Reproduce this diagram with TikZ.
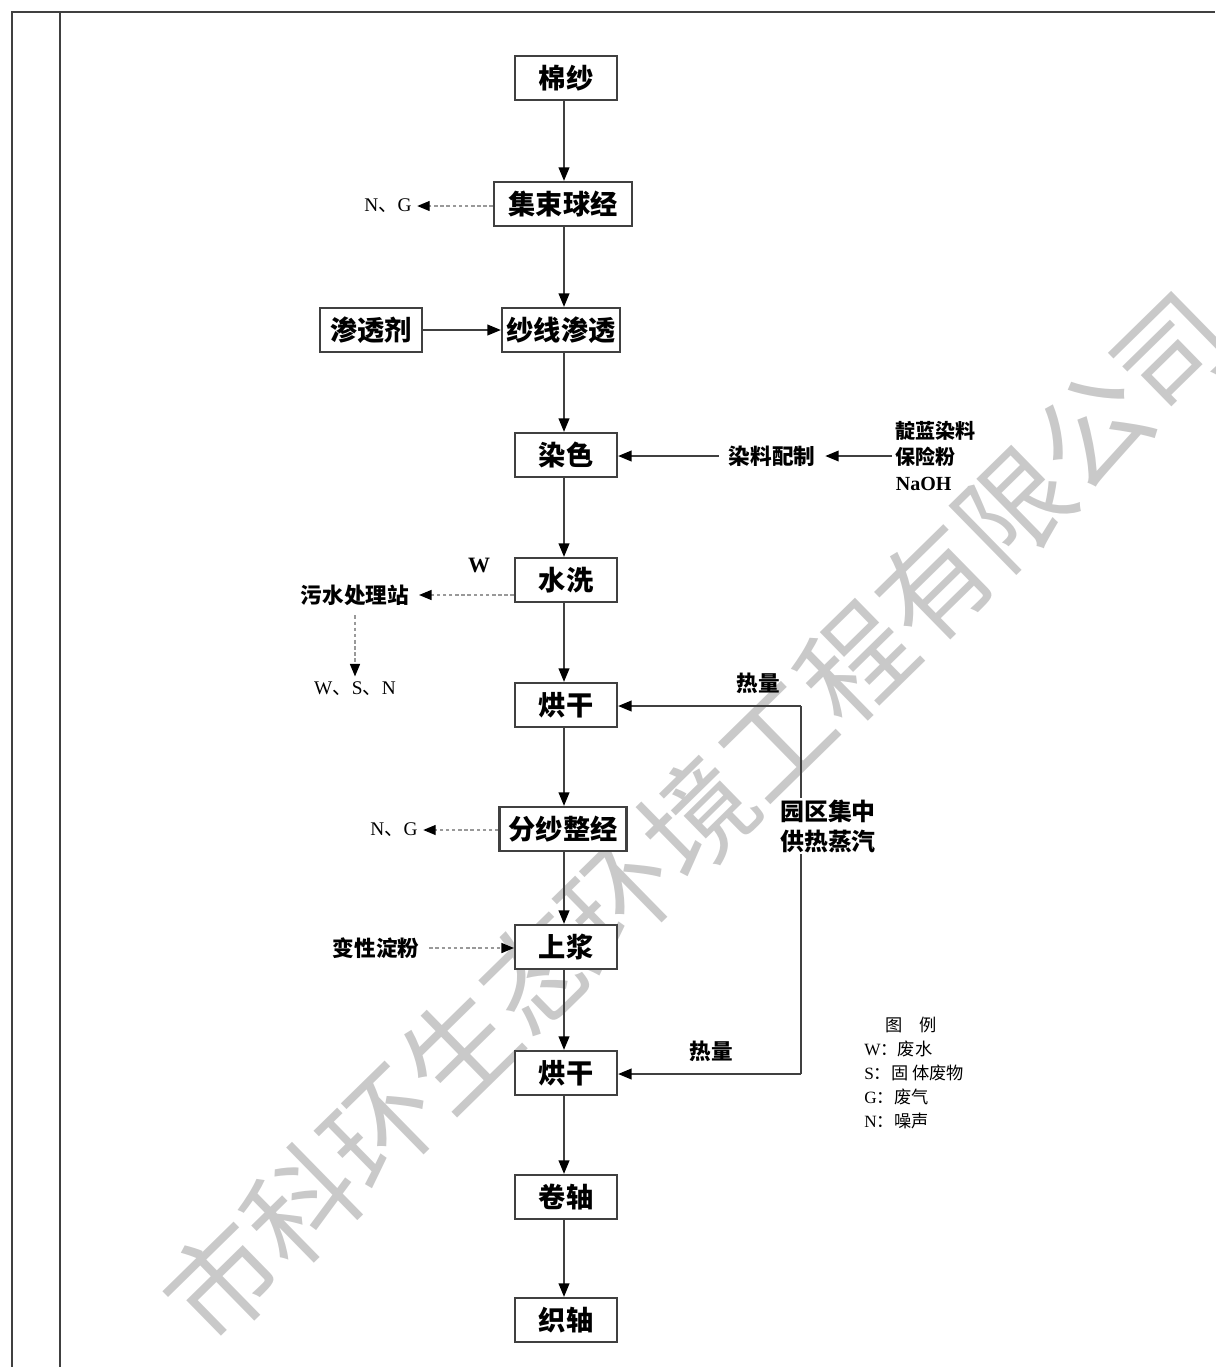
\documentclass[tikz,border=0pt]{standalone}
\usepackage{fontspec}
\setmainfont{Liberation Serif}
\newfontfamily\cjk{Noto Sans CJK SC}
\usetikzlibrary{arrows.meta}
\definecolor{linec}{gray}{0.25}
\definecolor{dashc}{gray}{0.6}
\definecolor{wmc}{gray}{0.79}
\begin{document}
\begin{tikzpicture}[x=0.02cm,y=-0.02cm,
  box/.style={draw=linec, fill=white, line width=1.2pt, minimum height=0.88cm, minimum width=2.04cm, inner sep=0pt, font=\cjk\bfseries\fontsize{15.5}{18}\selectfont},
  lbl/.style={font=\cjk\bfseries\fontsize{12.3}{15}\selectfont, inner sep=5.5pt},
  lat/.style={font=\fontsize{11}{13}\selectfont, inner sep=3pt},
  arr/.style={draw=linec, line width=1.2pt, -{Triangle[length=0.27cm,width=0.21cm,color=black]}},
  darr/.style={draw=dashc, line width=0.8pt, dash pattern=on 2pt off 1.5pt, -{Triangle[length=0.25cm,width=0.2cm,color=black]}},
  frame/.style={draw=linec, line width=1.2pt}]
\useasboundingbox (0,0) rectangle (1215,1367);
\clip (0,0) rectangle (1215,1367);
% watermark
\node[rotate=44.4, text=wmc, font=\cjk\fontsize{63}{63}\selectfont, inner sep=0pt] (wm) at (697,817) {市科环生态环境工程有限公司};
% frame
\draw[frame] (12,1367) -- (12,12) -- (1215,12);
\draw[frame] (60,12) -- (60,1367);
% main boxes
\node[box] (mian) at (566,78) {棉纱};
\node[box, minimum width=2.76cm] (jsqj) at (563,204) {集束球经};
\node[box] (stj) at (371,330) {渗透剂};
\node[box, minimum width=2.36cm] (sxst) at (561,330) {纱线渗透};
\node[box] (rs) at (566,455) {染色};
\node[box] (sx) at (566,580) {水洗};
\node[box] (hg1) at (566,705) {烘干};
\node[box, minimum width=2.54cm] (fszj) at (563,829) {分纱整经};
\node[box] (sj) at (566,947) {上浆};
\node[box] (hg2) at (566,1073) {烘干};
\node[box] (jz) at (566,1197) {卷轴};
\node[box] (zz) at (566,1320) {织轴};
\coordinate (col) at (564,0);
\foreach \a/\b in {mian/jsqj, jsqj/sxst, sxst/rs, rs/sx, sx/hg1, hg1/fszj, fszj/sj, sj/hg2, hg2/jz, jz/zz}
  \draw[arr] (\a.south -| col) -- (\b.north -| col);
% side items
\node[lat] (ng1) at (388,206) {N{\cjk 、}G};
\draw[darr] (ng1.east -| jsqj.west) -- (ng1.east);
\draw[arr] (stj.east) -- (sxst.west);
\node[lbl] (rlpz) at (772,456) {染料配制};
\draw[arr] (rlpz.west) -- (rlpz.west -| rs.east);
\node[font=\cjk\bfseries\fontsize{11.4}{14.7}\selectfont, align=left, anchor=west, inner sep=2pt] (list) at (892,456) {靛蓝染料\\保险粉\\{\rmfamily\bfseries NaOH}};
\draw[arr] (list.west) -- (list.west -| rlpz.east);
\node[font=\bfseries\fontsize{12.5}{14}\selectfont] (wl) at (479,565) {W};
\node[lbl] (wscl) at (355,595) {污水处理站};
\draw[darr] (wscl.east -| sx.west) -- (wscl.east);
\node[lat] (wsn) at (355,689) {W{\cjk 、}S{\cjk 、}N};
\draw[darr] (wscl.south) -- (wsn.north);
\node[lbl] (rl1) at (758,683) {热量};
\node[lbl] (rl2) at (711,1051) {热量};
\coordinate (st) at (801,706);
\coordinate (sb) at (801,1074);
\draw[linec, line width=1.2pt] (st) -- (sb);
\draw[arr] (st) -- (st -| hg1.east);
\draw[arr] (sb) -- (sb -| hg2.east);
\node[font=\cjk\bfseries\fontsize{13.6}{17}\selectfont, fill=white, align=left, inner sep=1pt] (yq) at (828,826) {园区集中\\供热蒸汽};
\node[lat] (ng2) at (394,830) {N{\cjk 、}G};
\draw[darr] (ng2.east -| fszj.west) -- (ng2.east);
\node[lbl] (bxdf) at (376,948) {变性淀粉};
\draw[darr] (bxdf.east) -- (bxdf.east -| sj.west);
% legend
\node[font=\cjk\fontsize{9.8}{13.6}\selectfont, align=left, anchor=west, inner sep=0pt] (legend) at (864,1073) {\hspace*{0.42cm}图　例\\{\rmfamily W}：废水\\{\rmfamily S}：固 体废物\\{\rmfamily G}：废气\\{\rmfamily N}：噪声};
\end{tikzpicture}
\end{document}
